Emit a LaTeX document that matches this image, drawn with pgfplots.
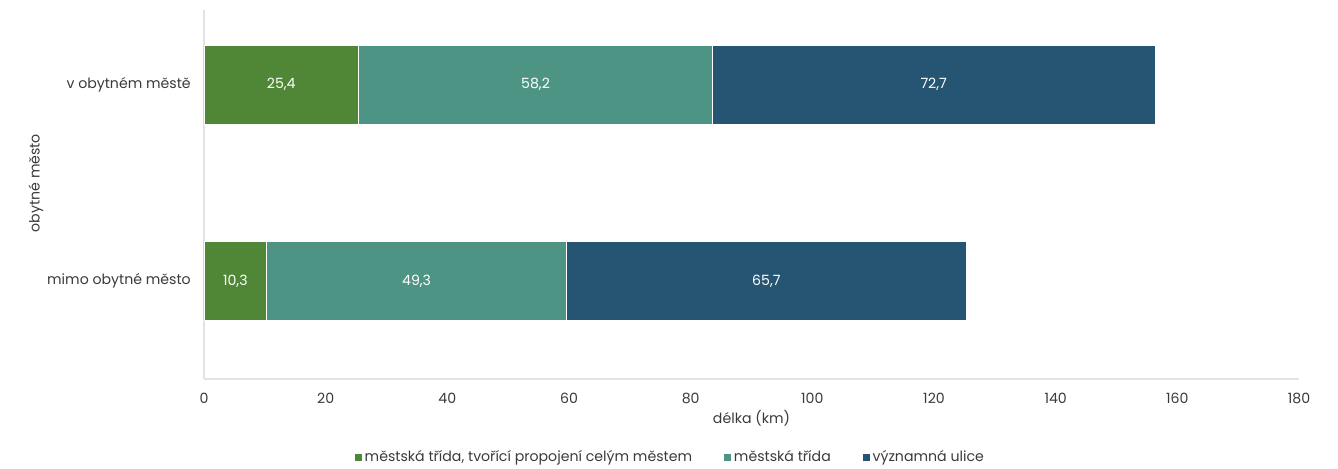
\documentclass[border=0pt]{standalone}
\usepackage{pgfplots}
\pgfplotsset{compat=1.18}
\usepackage{pgfplotstable}
\usepackage{fontspec}
\setmainfont{Poppins}

\definecolor{cGreen}{HTML}{4F8736}
\definecolor{cTeal}{HTML}{4E9484}
\definecolor{cBlue}{HTML}{265573}
\definecolor{cText}{HTML}{3A3A3A}
\definecolor{cAxis}{HTML}{E3E3E3}

% y = 0 mimo obytne mesto, y = 1 v obytnem meste
\pgfplotstableread{
y g t b
0 10.3 49.3 65.7
1 25.4 58.2 72.7
}\bars

% segment centres for the value labels
\pgfplotstableread{
x y v
12.7 1 25.4
54.5 1 58.2
119.95 1 72.7
5.15 0 10.3
34.95 0 49.3
92.45 0 65.7
}\labels

\newcommand\chartfont{\fontsize{10.6}{12.5}\selectfont}

\begin{document}
\begin{tikzpicture}
\pgfplotsset{
  common/.style={
    scale only axis,
    width=821.25pt, height=276.75pt,
    xmin=0, xmax=180,
    ymin=-0.5, ymax=1.38,
  },
}
\begin{axis}[
    name=ax,
    common,
    xbar stacked,
    bar width=0.4,
    axis lines*=left,
    axis line style={cAxis, line width=0.9pt},
    major tick length=0pt,
    tick style={draw=none},
    xtick={0,20,...,180},
    ytick={0,1},
    yticklabels={mimo obytné město, v obytném městě},
    /pgf/number format/assume math mode=true,
    ticklabel style={font=\chartfont, text=cText},
    xticklabel style={anchor=center, yshift=-14.25pt},
    yticklabel style={anchor=east, xshift=-6.4pt},
    xlabel={délka (km)},
    ylabel={obytné město},
    label style={font=\chartfont, text=cText},
    xlabel style={at={(axis description cs:0.5,-0.1057)}, anchor=center},
    ylabel style={at={(axis description cs:-0.1534,0.531)}, anchor=center},
    legend image code/.code={\fill[#1] (0pt,-3pt) rectangle (6pt,3pt);},
    legend columns=3,
    legend style={
      at={(axis description cs:0.4256,-0.2114)}, anchor=center,
      draw=none, fill=none,
      font=\chartfont, text=cText,
      /tikz/every even column/.append style={column sep=22pt},
      nodes={inner sep=1.5pt},
    },
]
\addplot[fill=cGreen, draw=white, line width=0.4pt] table[x=g, y=y] {\bars};
\addlegendentry{městská třída, tvořící propojení celým městem}
\addplot[fill=cTeal, draw=white, line width=0.4pt] table[x=t, y=y] {\bars};
\addlegendentry{městská třída}
\addplot[fill=cBlue, draw=white, line width=0.4pt] table[x=b, y=y] {\bars};
\addlegendentry{významná ulice}
\end{axis}

\begin{axis}[
    common,
    at={(ax.south west)}, anchor=south west,
    hide axis,
]
\addplot[
    draw=none, mark=none,
    nodes near coords,
    point meta=explicit,
    nodes near coords style={
      anchor=center, text=white, font=\chartfont,
      /pgf/number format/.cd, use comma, fixed, fixed zerofill, precision=1,
      assume math mode=true,
    },
] table[x=x, y=y, meta=v] {\labels};
\end{axis}

\pgfresetboundingbox
\path ([shift={(-153pt,-66.75pt)}]ax.south west) rectangle ([shift={(29.25pt,7.5pt)}]ax.north east);
\end{tikzpicture}
\end{document}
